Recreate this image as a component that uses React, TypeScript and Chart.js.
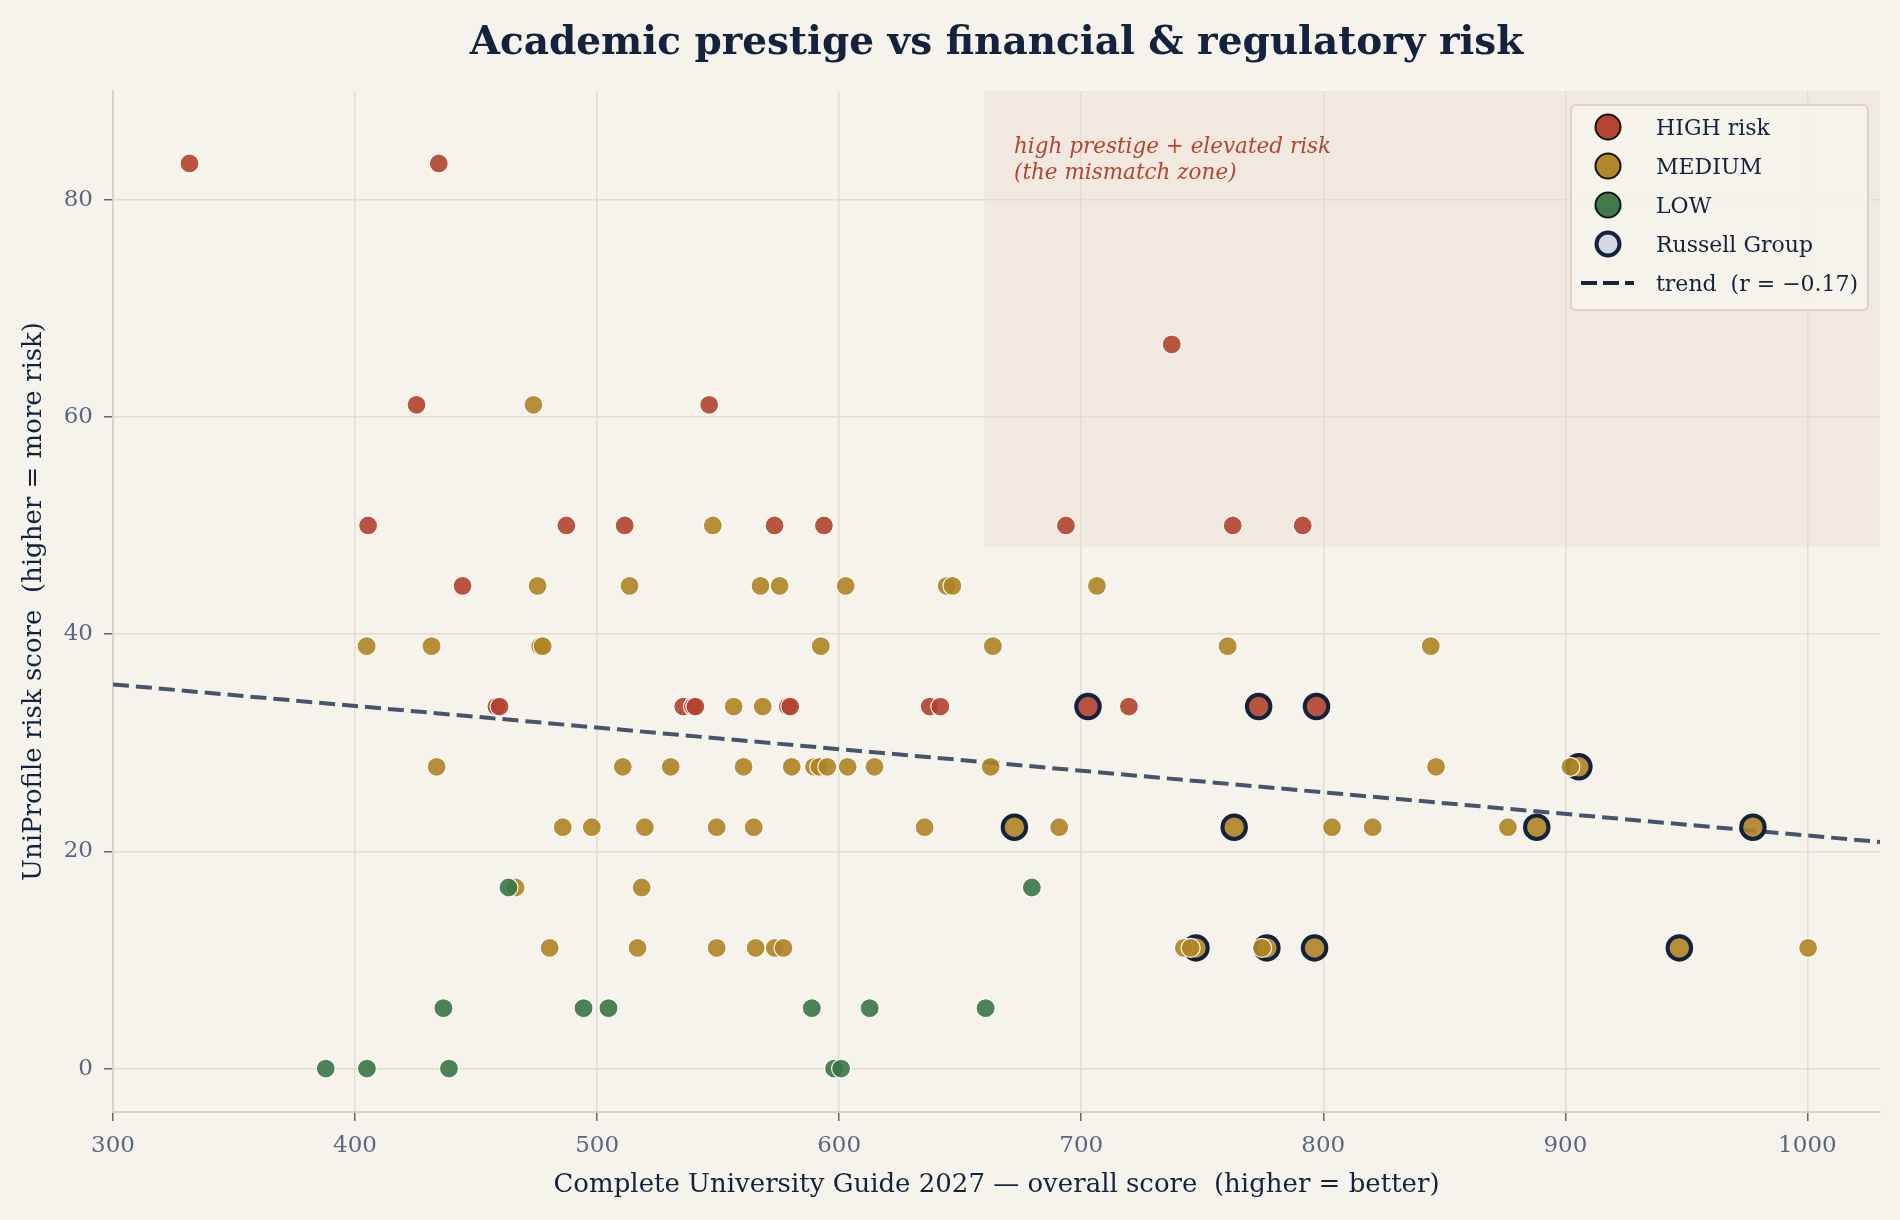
import React, { useEffect, useRef } from 'react';
import { Chart, registerables } from 'chart.js';

Chart.register(...registerables);

// ---------------- data ----------------
const highX = [331.6, 434.6, 737.4, 425.4, 546.3, 405.4, 487.3, 511.4, 573.3, 593.7, 693.7, 762.6, 791.5, 444.4, 458.4, 459.7, 535.6, 539.6, 540.6, 578.8, 579.8, 637.4, 641.8, 719.7];
const highY = [83.33, 83.33, 66.67, 61.11, 61.11, 50, 50, 50, 50, 50, 50, 50, 50, 44.44, 33.33, 33.33, 33.33, 33.33, 33.33, 33.33, 33.33, 33.33, 33.33, 33.33];

const mediumX = [
  473.7,
  547.8,
  475.4, 513.4, 567.5, 575.4, 602.7, 644.4, 646.8, 706.5,
  404.8, 431.6, 476.5, 477.5, 592.4, 663.5, 760.5, 844.4,
  556.4, 568.4,
  433.7, 510.6, 530.4, 560.5, 580.4, 589.6, 591.8, 595.1, 603.5, 614.6, 662.6, 846.6, 902.1,
  485.8, 497.8, 519.7, 549.4, 564.7, 635.3, 690.9, 803.6, 820.4, 876.3,
  466.3, 518.4,
  480.4, 516.7, 549.4, 565.5, 573.4, 577.0, 742.4, 745.2, 774.7, 1000.3,
];
const mediumY = [
  61.11,
  50,
  44.44, 44.44, 44.44, 44.44, 44.44, 44.44, 44.44, 44.44,
  38.89, 38.89, 38.89, 38.89, 38.89, 38.89, 38.89, 38.89,
  33.33, 33.33,
  27.78, 27.78, 27.78, 27.78, 27.78, 27.78, 27.78, 27.78, 27.78, 27.78, 27.78, 27.78, 27.78,
  22.22, 22.22, 22.22, 22.22, 22.22, 22.22, 22.22, 22.22, 22.22, 22.22,
  16.67, 16.67,
  11.11, 11.11, 11.11, 11.11, 11.11, 11.11, 11.11, 11.11, 11.11, 11.11,
];

const lowX = [463.4, 679.6, 436.5, 494.4, 504.7, 588.7, 612.6, 660.5, 387.9, 404.9, 438.8, 597.9, 600.8];
const lowY = [16.67, 16.67, 5.56, 5.56, 5.56, 5.56, 5.56, 5.56, 0, 0, 0, 0, 0];

const russellX = [702.8, 773.3, 797.2, 905.6, 672.4, 763.2, 888.2, 977.5, 747.4, 776.7, 796.4, 947.1];
const russellY = [33.33, 33.33, 33.33, 27.78, 22.22, 22.22, 22.22, 22.22, 11.11, 11.11, 11.11, 11.11];
const russellRisk = ['HIGH', 'HIGH', 'HIGH', 'MEDIUM', 'MEDIUM', 'MEDIUM', 'MEDIUM', 'MEDIUM', 'MEDIUM', 'MEDIUM', 'MEDIUM', 'MEDIUM'];

const trendX = [300, 1030];
const trendY = [35.37, 20.86];

const xTicks = [300, 400, 500, 600, 700, 800, 900, 1000];
const yTicks = [0, 20, 40, 60, 80];
const xRange = [300, 1030];
const yRange = [-4, 90];
const zoneX = [660, 1030];
const zoneY = [48, 90];

const legendLabels = ['HIGH risk', 'MEDIUM', 'LOW', 'Russell Group', 'trend  (r = \u22120.17)'];

const TITLE = 'Academic prestige vs financial & regulatory risk';
const X_TITLE = 'Complete University Guide 2027 \u2014 overall score  (higher = better)';
const Y_TITLE = 'UniProfile risk score  (higher = more risk)';
const NOTE = ['high prestige + elevated risk', '(the mismatch zone)'];

// ---------------- style ----------------
const FONT = "'DejaVu Serif', Georgia, serif";
const BG = '#f6f3ec';
const ZONE = '#f1e9e0';
const GRID = '#e3ddd0';
const SPINE = '#d9d1c1';
const TICK = '#5b6782';
const NAVY = '#14233d';
const TREND = '#46556b';
const NOTE_COLOR = '#b5442f';

const POINT_FILL: Record<string, string> = {
  HIGH: 'rgba(178,66,45,0.9)',
  MEDIUM: 'rgba(174,131,35,0.9)',
  LOW: 'rgba(58,117,70,0.9)',
};
const LEGEND_FILL = ['#b5442f', '#b2862a', '#3f7a4b'];

const pts = (xs: number[], ys: number[]) => xs.map((x, i) => ({ x, y: ys[i] }));

export default function App() {
  const ref = useRef<HTMLCanvasElement | null>(null);

  useEffect(() => {
    const canvas = ref.current;
    if (!canvas) return;

    const decor = {
      id: 'decor',
      beforeDraw(chart: any) {
        const { ctx, scales } = chart;
        ctx.save();
        ctx.fillStyle = BG;
        ctx.fillRect(0, 0, chart.width, chart.height);
        const x0 = scales.x.getPixelForValue(zoneX[0]);
        const x1 = scales.x.getPixelForValue(zoneX[1]);
        const yTop = scales.y.getPixelForValue(zoneY[1]);
        const yBot = scales.y.getPixelForValue(zoneY[0]);
        ctx.fillStyle = ZONE;
        ctx.fillRect(x0, yTop, x1 - x0, yBot - yTop);
        ctx.restore();
      },
      afterDraw(chart: any) {
        const { ctx, chartArea } = chart;
        const cx = (chartArea.left + chartArea.right) / 2;
        const cy = (chartArea.top + chartArea.bottom) / 2;
        ctx.save();
        // title
        ctx.fillStyle = NAVY;
        ctx.textAlign = 'center';
        ctx.textBaseline = 'alphabetic';
        ctx.font = `bold 39px ${FONT}`;
        ctx.fillText(TITLE, cx, 54);
        // x title
        ctx.font = `26px ${FONT}`;
        ctx.fillText(X_TITLE, cx, 1192);
        // y title
        ctx.save();
        ctx.translate(41, cy);
        ctx.rotate(-Math.PI / 2);
        ctx.fillText(Y_TITLE, 0, 0);
        ctx.restore();
        // annotation
        ctx.textAlign = 'left';
        ctx.fillStyle = NOTE_COLOR;
        ctx.font = `italic 21.5px ${FONT}`;
        ctx.fillText(NOTE[0], 1014, 153);
        ctx.fillText(NOTE[1], 1014, 179);
        // legend
        const lx = 1571, ly = 105, lw = 297, lh = 205;
        ctx.beginPath();
        ctx.roundRect(lx, ly, lw, lh, 5);
        ctx.fillStyle = 'rgba(246,243,236,0.92)';
        ctx.fill();
        ctx.lineWidth = 2;
        ctx.strokeStyle = '#dbd4c4';
        ctx.stroke();
        const mx = 1608;
        legendLabels.forEach((label, i) => {
          const ry = 127 + i * 39;
          if (i < 3) {
            ctx.beginPath();
            ctx.arc(mx, ry, 12.5, 0, Math.PI * 2);
            ctx.fillStyle = LEGEND_FILL[i];
            ctx.fill();
            ctx.lineWidth = 2;
            ctx.strokeStyle = '#111111';
            ctx.stroke();
          } else if (i === 3) {
            ctx.beginPath();
            ctx.arc(mx, ry, 11.5, 0, Math.PI * 2);
            ctx.fillStyle = '#d2d9e4';
            ctx.fill();
            ctx.lineWidth = 4;
            ctx.strokeStyle = NAVY;
            ctx.stroke();
          } else {
            ctx.beginPath();
            ctx.setLineDash([16, 6]);
            ctx.moveTo(1581, ry);
            ctx.lineTo(1634, ry);
            ctx.lineWidth = 4;
            ctx.strokeStyle = NAVY;
            ctx.stroke();
            ctx.setLineDash([]);
          }
          ctx.fillStyle = NAVY;
          ctx.font = `22px ${FONT}`;
          ctx.textAlign = 'left';
          ctx.textBaseline = 'alphabetic';
          ctx.fillText(label, 1656, ry + 8);
        });
        ctx.restore();
      },
    };

    const chart = new Chart(canvas, {
      type: 'scatter',
      data: {
        datasets: [
          {
            label: 'LOW',
            data: pts(lowX, lowY),
            backgroundColor: POINT_FILL.LOW,
            borderColor: 'rgba(255,255,255,0.95)',
            borderWidth: 1.2,
            pointRadius: 9.5,
            order: 1,
          },
          {
            label: 'MEDIUM',
            data: pts(mediumX, mediumY),
            backgroundColor: POINT_FILL.MEDIUM,
            borderColor: 'rgba(255,255,255,0.95)',
            borderWidth: 1.2,
            pointRadius: 9.5,
            order: 2,
          },
          {
            label: 'HIGH risk',
            data: pts(highX, highY),
            backgroundColor: POINT_FILL.HIGH,
            borderColor: 'rgba(255,255,255,0.95)',
            borderWidth: 1.2,
            pointRadius: 9.5,
            order: 3,
          },
          {
            label: 'Russell Group',
            data: pts(russellX, russellY),
            backgroundColor: russellRisk.map((r) => POINT_FILL[r]),
            borderColor: NAVY,
            borderWidth: 4,
            pointRadius: 11.75,
            order: 4,
          },
          {
            label: 'trend',
            data: pts(trendX, trendY),
            showLine: true,
            borderColor: TREND,
            borderWidth: 4,
            borderDash: [16, 7],
            pointRadius: 0,
            fill: false,
            order: 5,
          } as any,
        ],
      },
      options: {
        animation: false,
        responsive: false,
        devicePixelRatio: 1,
        layout: { padding: { top: 91, right: 20, left: 0, bottom: 0 } },
        plugins: {
          legend: { display: false },
          tooltip: { enabled: false },
          title: { display: false },
        },
        scales: {
          x: {
            type: 'linear',
            min: xRange[0],
            max: xRange[1],
            afterBuildTicks: (s: any) => {
              s.ticks = xTicks.map((v) => ({ value: v }));
            },
            afterFit: (s: any) => {
              s.height = 108;
            },
            grid: { color: GRID, lineWidth: 1.5, drawTicks: true, tickLength: 9, tickColor: TICK, tickWidth: 1.5 },
            border: { display: true, color: SPINE, width: 2 },
            ticks: {
              font: { family: FONT, size: 23 },
              color: TICK,
              padding: 11,
              maxRotation: 0,
              autoSkip: false,
              callback: (v: any) => String(v),
            },
          },
          y: {
            type: 'linear',
            min: yRange[0],
            max: yRange[1],
            afterBuildTicks: (s: any) => {
              s.ticks = yTicks.map((v) => ({ value: v }));
            },
            afterFit: (s: any) => {
              s.width = 113;
            },
            grid: { color: GRID, lineWidth: 1.5, drawTicks: true, tickLength: 9, tickColor: TICK, tickWidth: 1.5 },
            border: { display: true, color: SPINE, width: 2 },
            ticks: {
              font: { family: FONT, size: 23 },
              color: TICK,
              padding: 11,
              autoSkip: false,
              callback: (v: any) => String(v),
            },
          },
        },
      } as any,
      plugins: [decor],
    });

    return () => {
      chart.destroy();
    };
  }, []);

  return (
    <div style={{ position: 'fixed', left: 0, top: 0, width: 1900, height: 1220, background: BG }}>
      <canvas ref={ref} width={1900} height={1220} style={{ width: 1900, height: 1220, display: 'block' }} />
    </div>
  );
}
